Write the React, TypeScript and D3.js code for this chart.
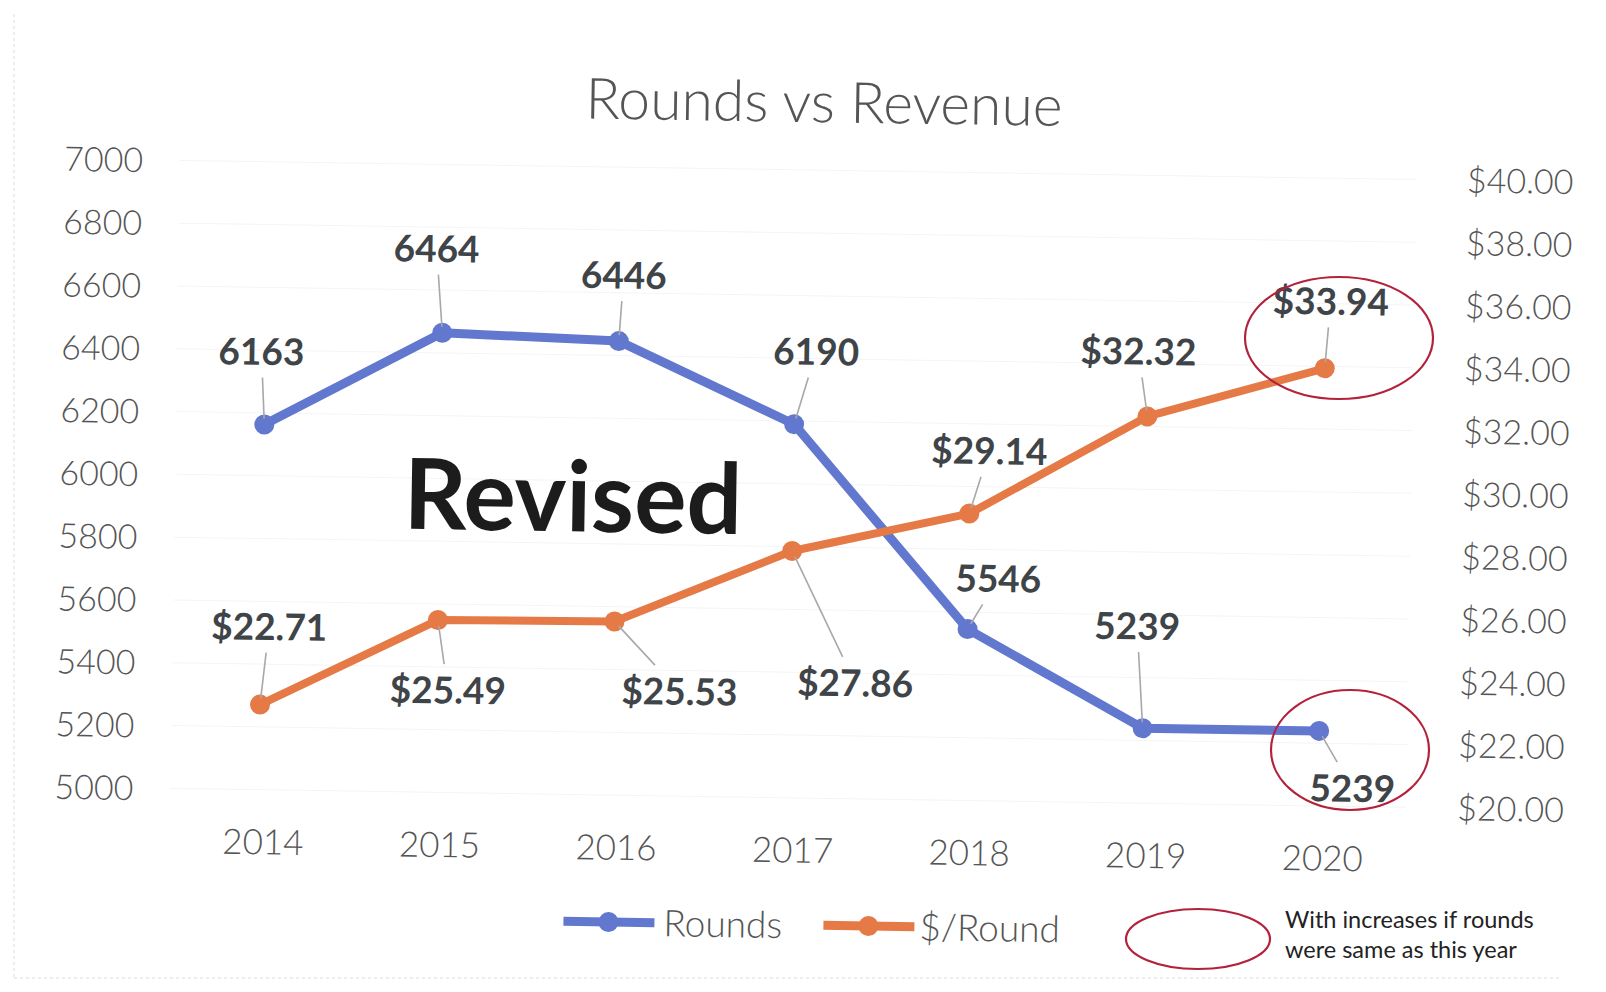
import React from "react";
import * as d3 from "d3";

const years = ["2014", "2015", "2016", "2017", "2018", "2019", "2020"];
const rounds = [6163, 6464, 6446, 6190, 5546, 5239, 5239];
const perRound = [22.71, 25.49, 25.53, 27.86, 29.14, 32.32, 33.94];
const leftTicks = [5000, 5200, 5400, 5600, 5800, 6000, 6200, 6400, 6600, 6800, 7000];
const rightTicks = [20, 22, 24, 26, 28, 30, 32, 34, 36, 38, 40];
const roundsLabels = ["6163", "6464", "6446", "6190", "5546", "5239", "5239"];
const perRoundLabels = ["$22.71", "$25.49", "$25.53", "$27.86", "$29.14", "$32.32", "$33.94"];

// label placement offsets (layout)
const roundsOff: [number, number][] = [[-4, -73], [-7, -84], [4, -66], [21, -73], [30, -51], [-7, -102], [34, 57]];
const perOff: [number, number][] = [[8, -78], [11, 70], [66, 69], [65, 131], [19, -63], [-10, -65], [5, -67]];

const W = 1606, H = 992;
const FONT = "Lato, 'Open Sans', sans-serif";
const BLUE = "#6278CE";
const ORANGE = "#E57A47";
const RED = "#B3213B";

export default function App() {
  const x = d3.scalePoint<string>().domain(years).range([175, 1411]).padding(0.5);
  const yL = d3.scaleLinear().domain([5000, 7000]).range([798, 170]);
  const yR = d3.scaleLinear().domain([20, 40]).range([798, 170]);

  const lineL = d3.line<number>().x((_, i) => x(years[i])!).y((d) => yL(d));
  const lineR = d3.line<number>().x((_, i) => x(years[i])!).y((d) => yR(d));

  const leader = (px: number, py: number, off: [number, number], key: string) => {
    const [dx, dy] = off;
    const len = Math.hypot(dx, dy);
    const t0 = 6 / len;
    const t1 = Math.max(0.2, 1 - 26 / Math.abs(dy));
    return (
      <line key={key} x1={px + dx * t0} y1={py + dy * t0} x2={px + dx * t1} y2={py + dy * t1}
        stroke="#a8a8a8" strokeWidth={1.6} />
    );
  };

  return (
    <svg width={W} height={H} style={{ position: "absolute", left: 0, top: 0, display: "block", background: "#fff" }}>
      <line x1={14} y1={14} x2={14} y2={978} stroke="#e8e8e8" strokeWidth={1.5} strokeDasharray="3 3" />
      <line x1={14} y1={978} x2={1560} y2={978} stroke="#e8e8e8" strokeWidth={1.5} strokeDasharray="3 3" />
      <g transform="rotate(0.88 803 496)">
        <text x={818} y={122} textAnchor="middle" fontFamily={FONT} fontWeight={300} fontSize={57} fill="#555">Rounds vs Revenue</text>
        {leftTicks.map((t) => (
          <line key={"g" + t} x1={175} x2={1411} y1={yL(t)} y2={yL(t)} stroke="#f4f4f4" strokeWidth={1} />
        ))}
        {leftTicks.map((t) => (
          <text key={"l" + t} x={138} y={yL(t)} dy="0.36em" textAnchor="end" fontFamily={FONT} fontWeight={300}
            fontSize={34} fill="#555">{t}</text>
        ))}
        {rightTicks.map((t) => (
          <text key={"r" + t} x={1462} y={yR(t)} dy="0.36em" textAnchor="start" fontFamily={FONT} fontWeight={300}
            fontSize={34} fill="#555">{"$" + t.toFixed(2)}</text>
        ))}
        {years.map((yr) => (
          <text key={"x" + yr} x={x(yr)! + 5} y={850} dy="0.36em" textAnchor="middle" fontFamily={FONT} fontWeight={300}
            fontSize={35} fill="#555">{yr}</text>
        ))}
        <text x={573} y={535} textAnchor="middle" fontFamily={FONT} fontWeight={700} fontSize={98} fill="#1c1c1c">Revised</text>

        <path d={lineL(rounds)!} fill="none" stroke={BLUE} strokeWidth={9} strokeLinejoin="round" />
        <path d={lineR(perRound)!} fill="none" stroke={ORANGE} strokeWidth={8} strokeLinejoin="round" />
        {rounds.map((v, i) => (
          <circle key={"cb" + i} cx={x(years[i])} cy={yL(v)} r={10} fill={BLUE} />
        ))}
        {perRound.map((v, i) => (
          <circle key={"co" + i} cx={x(years[i])} cy={yR(v)} r={10} fill={ORANGE} />
        ))}
        {rounds.map((v, i) => leader(x(years[i])!, yL(v), roundsOff[i], "lb" + i))}
        {perRound.map((v, i) => leader(x(years[i])!, yR(v), perOff[i], "lo" + i))}
        {rounds.map((v, i) => (
          <text key={"tb" + i} x={x(years[i])! + roundsOff[i][0]} y={yL(v) + roundsOff[i][1]} dy="0.36em"
            textAnchor="middle" fontFamily={FONT} fontWeight={700} fontSize={37} fill="#3f4448">{roundsLabels[i]}</text>
        ))}
        {perRound.map((v, i) => (
          <text key={"to" + i} x={x(years[i])! + perOff[i][0]} y={yR(v) + perOff[i][1]} dy="0.36em"
            textAnchor="middle" fontFamily={FONT} fontWeight={700} fontSize={37} fill="#3f4448">{perRoundLabels[i]}</text>
        ))}

        <line x1={570} x2={661} y1={925} y2={925} stroke={BLUE} strokeWidth={9} />
        <circle cx={615} cy={925} r={10} fill={BLUE} />
        <text x={670} y={925} dy="0.36em" fontFamily={FONT} fontWeight={300} fontSize={37} fill="#555">Rounds</text>
        <line x1={830} x2={921} y1={925} y2={925} stroke={ORANGE} strokeWidth={9} />
        <circle cx={875} cy={925} r={10} fill={ORANGE} />
        <text x={926} y={925} dy="0.36em" fontFamily={FONT} fontWeight={300} fontSize={37} fill="#555">$/Round</text>
      </g>

      <ellipse cx={1339} cy={338} rx={94} ry={61} fill="none" stroke={RED} strokeWidth={2.2} />
      <ellipse cx={1350} cy={750} rx={79} ry={60} fill="none" stroke={RED} strokeWidth={2.2} />
      <ellipse cx={1198} cy={939} rx={72} ry={30} fill="none" stroke={RED} strokeWidth={2.2} />
      <text x={1285} y={920} dy="0.36em" fontFamily={FONT} fontSize={23.5} fill="#222">With increases if rounds</text>
      <text x={1285} y={950} dy="0.36em" fontFamily={FONT} fontSize={23.5} fill="#222">were same as this year</text>
    </svg>
  );
}
